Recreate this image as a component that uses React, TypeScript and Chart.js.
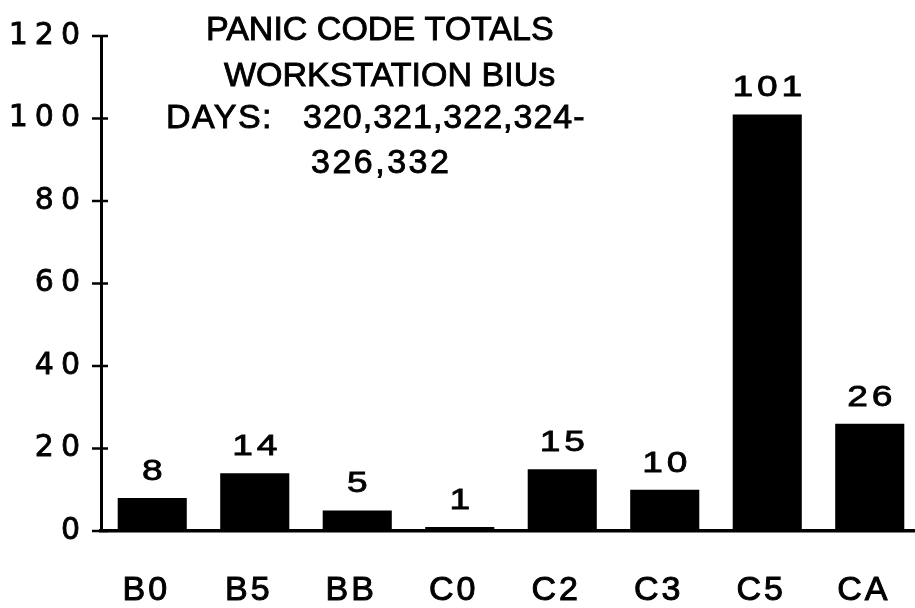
import React, { useEffect, useRef } from 'react';
import { Chart, registerables } from 'chart.js';

Chart.register(...registerables);

const categories = ['B0', 'B5', 'BB', 'C0', 'C2', 'C3', 'C5', 'CA'];
const totals = [8, 14, 5, 1, 15, 10, 101, 26];
const yTickValues = [0, 20, 40, 60, 80, 100, 120];
const titleText = ['PANIC CODE TOTALS', 'WORKSTATION BIUs', 'DAYS:', '320,321,322,324-', '326,332'];

const W = 915;
const H = 608;
const AXIS_LEFT = 101;
const AXIS_BOTTOM = 531;
const PLOT_RIGHT = 921;

const titleLayout = [
  { x: 206, y: 40, ls: 0 },
  { x: 224, y: 86, ls: 0 },
  { x: 166, y: 128, ls: 1.5 },
  { x: 303, y: 128, ls: 1 },
  { x: 311, y: 173, ls: 2.5 },
];

function patchLabelSpacing(scale: any, spacing: string) {
  if (scale.__spacingPatched) return;
  const orig = scale.drawLabels;
  scale.drawLabels = function (area: any) {
    const c = this.ctx;
    c.save();
    c.letterSpacing = spacing;
    orig.call(this, area);
    c.restore();
  };
  scale.__spacingPatched = true;
}

// extend the plot area slightly past the right edge of the canvas, as in the original
const widenPlugin = {
  id: 'widen',
  afterLayout(chart: any) {
    const x = chart.scales.x;
    x.right = PLOT_RIGHT;
    x.width = x.right - x.left;
    x.configure();
    chart.chartArea.right = PLOT_RIGHT;
    chart.chartArea.width = PLOT_RIGHT - chart.chartArea.left;
  },
};

const crossTicksPlugin = {
  id: 'crossTicks',
  afterDatasetsDraw(chart: any) {
    const { ctx, scales } = chart;
    const y = scales.y;
    const x0 = chart.chartArea.left;
    ctx.save();
    ctx.strokeStyle = '#000';
    ctx.lineWidth = 2.5;
    y.ticks.forEach((t: any) => {
      const py = y.getPixelForValue(t.value);
      ctx.beginPath();
      ctx.moveTo(x0 - 9, py);
      ctx.lineTo(x0 + 7, py);
      ctx.stroke();
    });
    ctx.restore();
  },
};

const valueLabelsPlugin = {
  id: 'valueLabels',
  afterDatasetsDraw(chart: any) {
    const { ctx } = chart;
    const meta = chart.getDatasetMeta(0);
    const data = chart.data.datasets[0].data;
    ctx.save();
    ctx.fillStyle = '#000';
    ctx.font = '29px "Liberation Sans", Arial, sans-serif';
    ctx.textAlign = 'center';
    ctx.textBaseline = 'alphabetic';
    ctx.letterSpacing = '3px';
    meta.data.forEach((bar: any, i: number) => {
      ctx.save();
      ctx.translate(bar.x + 2, bar.y - 18);
      ctx.scale(1.28, 1);
      ctx.lineWidth = 0.8;
      ctx.strokeStyle = '#000';
      ctx.fillText(String(data[i]), 0, 0);
      ctx.strokeText(String(data[i]), 0, 0);
      ctx.restore();
    });
    ctx.restore();
  },
};

const titlePlugin = {
  id: 'titleText',
  afterDatasetsDraw(chart: any) {
    const { ctx } = chart;
    ctx.save();
    ctx.fillStyle = '#000';
    ctx.strokeStyle = '#000';
    ctx.lineWidth = 0.9;
    ctx.textBaseline = 'alphabetic';
    ctx.textAlign = 'left';
    ctx.font = '34px "Liberation Sans", Arial, sans-serif';
    titleText.forEach((txt, i) => {
      const l = titleLayout[i];
      ctx.letterSpacing = l.ls + 'px';
      ctx.fillText(txt, l.x, l.y);
      ctx.strokeText(txt, l.x, l.y);
    });
    ctx.restore();
  },
};

export default function App() {
  const ref = useRef<HTMLCanvasElement | null>(null);

  useEffect(() => {
    document.body.style.margin = '0';
    document.body.style.overflow = 'hidden';
    document.body.style.background = '#fff';
    const canvas = ref.current;
    if (!canvas) return;
    const chart = new Chart(canvas, {
      type: 'bar',
      data: {
        labels: categories,
        datasets: [
          {
            data: totals,
            backgroundColor: '#000',
            borderWidth: 0,
            barPercentage: 0.674,
            categoryPercentage: 1,
          },
        ],
      },
      options: {
        animation: false,
        responsive: false,
        devicePixelRatio: 1,
        layout: { padding: { top: 36, left: 0, right: 0, bottom: 0 } },
        plugins: {
          legend: { display: false },
          tooltip: { enabled: false },
          title: { display: false },
        },
        scales: {
          x: {
            offset: true,
            grid: { display: false },
            border: { display: true, color: '#000', width: 3.5 },
            ticks: {
              color: '#000',
              font: { family: '"Liberation Sans", Arial, sans-serif', size: 34 },
              textStrokeColor: '#000',
              textStrokeWidth: 1,
              padding: 31,
              labelOffset: -6,
              maxRotation: 0,
              autoSkip: false,
            },
            afterFit: (s: any) => {
              s.height = H - AXIS_BOTTOM;
              patchLabelSpacing(s, '3px');
            },
          },
          y: {
            min: 0,
            max: 120,
            grid: { display: false, drawTicks: false },
            border: { display: true, color: '#000', width: 3 },
            ticks: {
              color: '#000',
              font: { family: '"DejaVu Sans", sans-serif', size: 30 },
              textStrokeColor: '#000',
              textStrokeWidth: 0.8,
              padding: 14,
            },
            afterBuildTicks: (s: any) => {
              s.ticks = yTickValues.map((v) => ({ value: v }));
            },
            afterFit: (s: any) => {
              s.width = AXIS_LEFT;
              patchLabelSpacing(s, '7px');
            },
          },
        },
      },
      plugins: [widenPlugin, crossTicksPlugin, valueLabelsPlugin, titlePlugin],
    });
    return () => chart.destroy();
  }, []);

  return (
    <div style={{ position: 'fixed', left: 0, top: 0, width: W, height: H, overflow: 'hidden', background: '#fff' }}>
      <canvas ref={ref} width={W} height={H} style={{ width: W, height: H, display: 'block' }} />
    </div>
  );
}
